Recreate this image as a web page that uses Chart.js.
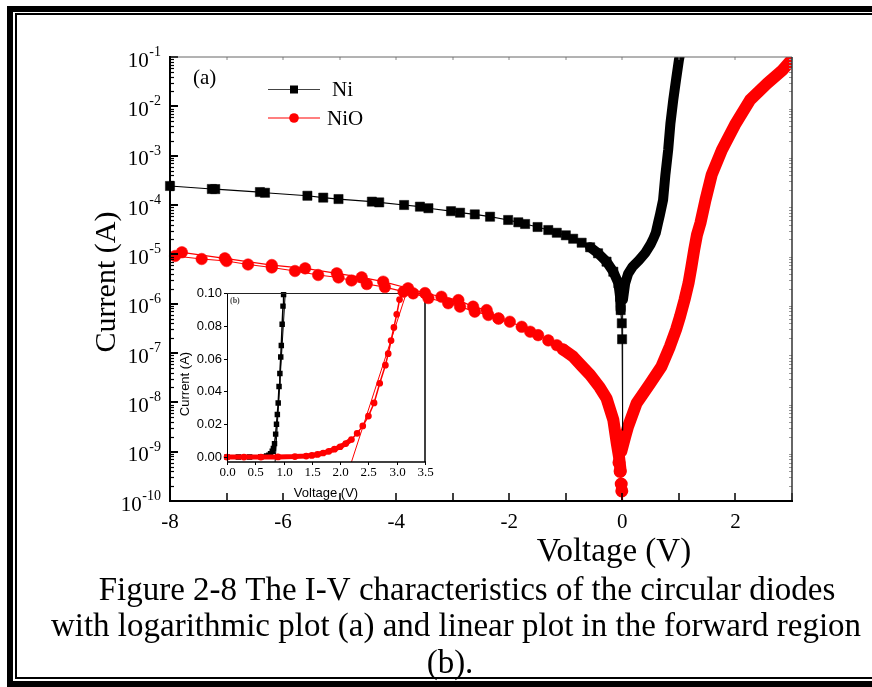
<!DOCTYPE html>
<html>
<head>
<meta charset="utf-8">
<script src="https://cdn.jsdelivr.net/npm/chart.js@4.4.1/dist/chart.umd.min.js"></script>
<style>
  html, body { margin: 0; padding: 0; background: #fff; }
  #wrap { position: relative; width: 872px; height: 687px; overflow: hidden; }
  #inset { position: absolute; left: 176px; top: 280px; z-index: 1; }
  #main { position: absolute; left: 0; top: 0; z-index: 2; }
</style>
</head>
<body>
<div id="wrap">
  <canvas id="inset" width="262" height="222"></canvas>
  <canvas id="main" width="872" height="687"></canvas>
</div>
<script>
// ---- (a) log plot ----
// Ni reverse bias, square markers
const niV = [-8.0, -7.26, -7.2, -6.41, -6.32, -5.57, -5.29, -5.02, -4.43, -4.30, -3.86, -3.58, -3.43, -3.03,
  -2.87, -2.61, -2.34, -2.02, -1.84, -1.72, -1.50, -1.31, -1.16, -1.00, -0.87, -0.72, -0.57, -0.43, -0.28,
  -0.16, -0.07, -0.04, -0.03, -0.01, -0.005];
const niI = [2.43e-4, 2.11e-4, 2.1e-4, 1.83e-4, 1.77e-4, 1.54e-4, 1.41e-4, 1.32e-4, 1.17e-4, 1.13e-4, 1.0e-4,
  9.25e-5, 8.6e-5, 7.5e-5, 6.98e-5, 6.46e-5, 5.79e-5, 4.97e-5, 4.46e-5, 4.12e-5, 3.58e-5, 3.11e-5, 2.74e-5,
  2.43e-5, 2.07e-5, 1.72e-5, 1.39e-5, 1.05e-5, 7.1e-6, 4.44e-6, 2.59e-6, 1.38e-6, 7.4e-7, 4e-7, 1.9e-7];
// Ni dense part (markers merge into a thick trace), null = break
const niDenseV = [-0.57, -0.43, -0.28, -0.16, -0.07, -0.04, -0.03, 0,
  0.01, 0.05, 0.1, 0.18, 0.29, 0.4, 0.5, 0.55, 0.59, 0.63, 0.66, 0.72, 0.76, 0.81, 0.85, 0.9, 0.95, 1.0, 1.03];
const niDenseI = [1.39e-5, 1.05e-5, 7.1e-6, 4.44e-6, 2.59e-6, 1.38e-6, 7.4e-7, null,
  1.2e-6, 2.6e-6, 4.0e-6, 5.6e-6, 7.5e-6, 1.05e-5, 1.6e-5, 2.1e-5, 2.7e-5, 4.3e-5, 6.0e-5, 1.26e-4, 4.0e-4,
  1.3e-3, 4.5e-3, 1.35e-2, 3.5e-2, 8.7e-2, 1.3e-1];
const niTailV = [-0.005, 0, 0.01];
const niTailI = [1.9e-7, 2.7e-9, 1.0e-6];

// NiO reverse bias, two sweeps
const nioAV = [-7.79, -7.03, -6.2, -5.61, -5.05, -4.61, -4.23, -3.79, -3.49, -3.2, -2.9, -2.64, -2.4, -2.19];
const nioAI = [1.1e-5, 8.3e-6, 6.07e-6, 5.2e-6, 4.12e-6, 3.42e-6, 2.79e-6, 2.05e-6, 1.64e-6, 1.38e-6, 1.18e-6,
  8.7e-7, 7.4e-7, 5.0e-7];
const nioBV = [-7.91, -7.44, -7.0, -6.62, -6.2, -5.79, -5.38, -5.02, -4.79, -4.52, -4.2, -3.87, -3.70, -3.43,
  -3.08, -2.87, -2.61, -2.37, -2.19, -1.99, -1.78, -1.63, -1.49, -1.31, -1.16, -1.05];
const nioBI = [9.25e-6, 8.04e-6, 7.32e-6, 6.22e-6, 5.41e-6, 4.59e-6, 3.81e-6, 3.39e-6, 2.95e-6, 2.5e-6, 2.17e-6,
  1.75e-6, 1.62e-6, 1.3e-6, 1.02e-6, 8.7e-7, 6.9e-7, 5.9e-7, 5.0e-7, 4.3e-7, 3.4e-7, 2.7e-7, 2.3e-7, 1.8e-7,
  1.44e-7, 1.18e-7];
const nioDenseV = [-1.05, -0.87, -0.72, -0.57, -0.4, -0.28, -0.16, -0.1, -0.06, -0.03, 0,
  -0.02, 0.05, 0.10, 0.25, 0.49, 0.69, 0.84, 0.95, 1.02, 1.1, 1.17, 1.22, 1.27, 1.32, 1.38, 1.47, 1.58, 1.76,
  1.99, 2.26, 2.56, 2.83, 3.0, 3.03];
const nioDenseI = [1.18e-7, 8.4e-8, 5.5e-8, 3.6e-8, 2.0e-8, 1.2e-8, 4.4e-9, 1.5e-9, 8e-10, 4e-10, null,
  1.0e-9, 2e-9, 3.2e-9, 9.5e-9, 2.4e-8, 5.3e-8, 1.35e-7, 3e-7, 5.5e-7, 1.2e-6, 2.6e-6, 5.5e-6, 1.23e-5, 2.5e-5,
  4.3e-5, 1.26e-4, 4.1e-4, 1.3e-3, 4.2e-3, 1.35e-2, 2.9e-2, 5.4e-2, 9.0e-2, 1.0e-1];
const nioDipV = [-0.06, -0.04, -0.02, -0.01, 0.0];
const nioDipI = [6e-10, 4e-10, 2.2e-10, 1.6e-10, 8e-11];

const xTickLabels = [-8, -6, -4, -2, 0, 2];
const yTickExps = [-1, -2, -3, -4, -5, -6, -7, -8, -9, -10];

// ---- (b) linear inset ----
const bNiV = [0, 0.2, 0.4, 0.6, 0.7, 0.74, 0.77, 0.8, 0.82, 0.84, 0.86, 0.875, 0.89, 0.905, 0.92, 0.935,
  0.95, 0.96, 0.975, 0.99, 1.0];
const bNiI = [0, 0, 0, 0.0002, 0.0006, 0.0012, 0.002, 0.0035, 0.0052, 0.0082, 0.014, 0.02, 0.026, 0.033,
  0.043, 0.051, 0.061, 0.068, 0.081, 0.092, 0.099];
const bNiFitV = [0.85, 1.03];
const bNiFitI = [-0.003, 0.1];
const bNioV = [0, 0.3, 0.6, 0.9, 1.2, 1.4, 1.5, 1.6, 1.7, 1.8, 1.9, 2.0, 2.1, 2.2, 2.3, 2.4, 2.5, 2.6, 2.7,
  2.8, 2.85, 2.9, 2.95, 3.0, 3.05, 3.1];
const bNioI = [0, 0, 0, 0.0001, 0.0003, 0.0006, 0.001, 0.0016, 0.0025, 0.0035, 0.0048, 0.0063, 0.0082, 0.0107,
  0.0145, 0.019, 0.025, 0.033, 0.045, 0.056, 0.063, 0.071, 0.079, 0.087, 0.096, 0.1];
const bNioFitV = [2.2, 3.17];
const bNioFitI = [-0.003, 0.1];
const bXTicks = [0, 0.5, 1.0, 1.5, 2.0, 2.5, 3.0, 3.5];
const bYTicks = [0, 0.02, 0.04, 0.06, 0.08, 0.10];

const pts = (xs, ys) => xs.map((v, i) => ({ x: v, y: ys[i] }));
const SERIF = '"Liberation Serif", "Times New Roman", serif';
const SANS = '"Liberation Sans", Arial, sans-serif';

function seg(ctx, x1, y1, x2, y2, w, c) {
  ctx.beginPath();
  ctx.lineWidth = w;
  ctx.strokeStyle = c;
  ctx.moveTo(x1, y1);
  ctx.lineTo(x2, y2);
  ctx.stroke();
}

const mainDecor = {
  id: 'mainDecor',
  afterDraw(chart) {
    const { ctx, chartArea: a } = chart;
    const x = chart.scales.x, y = chart.scales.y;
    ctx.save();

    // ticks
    for (let v = -8; v <= 3; v++) {
      const px = Math.round(x.getPixelForValue(v));
      seg(ctx, px, a.bottom, px, a.bottom - 8, 1.5, '#000');
      seg(ctx, px, a.top, px, a.top + 3, 1, '#888');
    }
    for (let e = -10; e <= -1; e++) {
      const py = Math.round(y.getPixelForValue(Math.pow(10, e)));
      seg(ctx, a.left, py, a.left + 8, py, 2, '#000');
      if (e < -1) {
        for (let m = 2; m <= 9; m++) {
          const pm = Math.round(y.getPixelForValue(m * Math.pow(10, e))) + 0.5;
          seg(ctx, a.left, pm, a.left + 4, pm, 1.2, '#000');
          seg(ctx, a.right, pm, a.right - 3, pm, 1, '#999');
        }
      }
    }

    // frame
    seg(ctx, a.left, a.top, a.right, a.top, 1, '#666');
    seg(ctx, a.right, a.top, a.right, a.bottom, 1.5, '#333');
    seg(ctx, a.left, a.top - 1, a.left, a.bottom + 1, 2, '#000');
    seg(ctx, a.left - 1, a.bottom, a.right + 1, a.bottom, 2, '#000');

    // tick labels
    ctx.fillStyle = '#000';
    ctx.font = '21px ' + SERIF;
    ctx.textAlign = 'center';
    ctx.textBaseline = 'middle';
    xTickLabels.forEach(v => ctx.fillText(String(v), x.getPixelForValue(v), a.bottom + 21));
    yTickExps.forEach(e => {
      const py = y.getPixelForValue(Math.pow(10, e));
      const rx = a.left - 9;
      ctx.textAlign = 'right';
      ctx.font = '14px ' + SERIF;
      ctx.textBaseline = 'alphabetic';
      const ex = String(e);
      const ew = ctx.measureText(ex).width;
      ctx.fillText(ex, rx, py - 1);
      ctx.font = '21px ' + SERIF;
      ctx.textBaseline = 'middle';
      ctx.fillText('10', rx - ew - 0.5, py + 4);
    });

    // axis titles
    ctx.textAlign = 'center';
    ctx.textBaseline = 'middle';
    ctx.font = '33px ' + SERIF;
    ctx.fillText('Voltage (V)', 614, 552);
    ctx.font = '30px ' + SERIF;
    ctx.save();
    ctx.translate(107, 282);
    ctx.rotate(-Math.PI / 2);
    ctx.fillText('Current (A)', 0, 0);
    ctx.restore();

    // panel label and legend
    ctx.font = '21px ' + SERIF;
    ctx.textAlign = 'left';
    ctx.textBaseline = 'middle';
    ctx.fillText('(a)', 193, 78);
    const ni = chart.data.datasets[1], nio = chart.data.datasets[4];
    seg(ctx, 268, 89.5, 320, 89.5, 1.2, '#444');
    ctx.fillStyle = ni.pointBackgroundColor;
    ctx.fillRect(290, 85.5, 8, 8);
    seg(ctx, 268, 118, 320, 118, 1.2, nio.borderColor);
    ctx.beginPath();
    ctx.fillStyle = nio.pointBackgroundColor;
    ctx.arc(294, 118, 4.8, 0, Math.PI * 2);
    ctx.fill();
    ctx.fillStyle = '#000';
    ctx.fillText('Ni', 332, 90);
    ctx.fillText('NiO', 327, 119);

    // caption
    ctx.font = '33px ' + SERIF;
    ctx.textAlign = 'center';
    ctx.textBaseline = 'alphabetic';
    ctx.fillText('Figure 2-8 The I-V characteristics of the circular diodes', 467, 600);
    ctx.fillText('with logarithmic plot (a) and linear plot in the forward region', 456, 636);
    ctx.fillText('(b).', 450, 673);

    // page border
    ctx.fillStyle = '#000';
    ctx.fillRect(7, 6, 865, 6);
    ctx.fillRect(15, 13, 857, 2);
    ctx.fillRect(7, 6, 6, 681);
    ctx.fillRect(15, 13, 2, 666);
    ctx.fillRect(7, 681, 865, 6);
    ctx.fillRect(15, 677, 857, 2);
    ctx.restore();
  }
};

const clipA = { left: 8, top: 0, right: 0, bottom: 1 };

new Chart(document.getElementById('main'), {
  type: 'scatter',
  data: {
    datasets: [
      { label: 'Ni tail', data: pts(niTailV, niTailI), showLine: true, borderColor: '#000', borderWidth: 1,
        pointRadius: 0, clip: clipA },
      { label: 'Ni', data: pts(niV, niI), showLine: true, borderColor: '#000', borderWidth: 1.2,
        pointStyle: 'rect', pointRadius: 6.5, pointBackgroundColor: '#000', pointBorderColor: '#000',
        pointBorderWidth: 0.5, clip: clipA },
      { label: 'Ni dense', data: pts(niDenseV, niDenseI), showLine: true, borderColor: '#000', borderWidth: 10,
        borderJoinStyle: 'round', borderCapStyle: 'round', pointRadius: 0, spanGaps: false, clip: clipA },
      { label: 'NiO dip', data: pts(nioDipV, nioDipI), showLine: true, borderColor: '#f00', borderWidth: 2,
        pointRadius: [5.5, 5.5, 5.5, 5.5, 0], pointBackgroundColor: '#f00', pointBorderColor: '#f00', clip: clipA },
      { label: 'NiO', data: pts(nioAV, nioAI), showLine: true, borderColor: '#f00', borderWidth: 1.2,
        pointStyle: 'circle', pointRadius: 5.8, pointBackgroundColor: '#f00', pointBorderColor: '#f00',
        pointBorderWidth: 0.5, clip: clipA },
      { label: 'NiO b', data: pts(nioBV, nioBI), showLine: true, borderColor: '#f00', borderWidth: 1.2,
        pointStyle: 'circle', pointRadius: 5.8, pointBackgroundColor: '#f00', pointBorderColor: '#f00',
        pointBorderWidth: 0.5, clip: clipA },
      { label: 'NiO dense', data: pts(nioDenseV, nioDenseI), showLine: true, borderColor: '#f00', borderWidth: 12,
        borderJoinStyle: 'round', borderCapStyle: 'round', pointRadius: 0, spanGaps: false, clip: clipA }
    ]
  },
  options: {
    responsive: false,
    animation: false,
    layout: { padding: { left: 170, top: 57, right: 80, bottom: 186 } },
    scales: {
      x: { type: 'linear', min: -8, max: 3, display: false },
      y: { type: 'logarithmic', min: 1e-10, max: 1e-1, display: false }
    },
    plugins: { legend: { display: false }, tooltip: { enabled: false } }
  },
  plugins: [mainDecor]
});

const insetDecor = {
  id: 'insetDecor',
  beforeDatasetsDraw(chart) {
    const { ctx, chartArea: a } = chart;
    ctx.save();
    ctx.fillStyle = '#fff';
    ctx.fillRect(a.left, a.top, a.right - a.left, a.bottom - a.top);
    ctx.restore();
  },
  afterDraw(chart) {
    const { ctx, chartArea: a } = chart;
    const x = chart.scales.x, y = chart.scales.y;
    ctx.save();
    seg(ctx, a.left + 0.5, a.top, a.left + 0.5, a.bottom + 1, 1, '#000');
    seg(ctx, a.left, a.top + 0.5, a.right, a.top + 0.5, 1, '#222');
    seg(ctx, a.right, a.top, a.right, a.bottom, 1.5, '#000');
    seg(ctx, a.left, a.bottom, a.right + 1, a.bottom, 1.5, '#000');
    ctx.fillStyle = '#000';
    ctx.font = '13px ' + SERIF;
    ctx.textAlign = 'center';
    ctx.textBaseline = 'middle';
    bXTicks.forEach(v => {
      const px = Math.round(x.getPixelForValue(v)) + 0.5;
      seg(ctx, px, a.bottom, px, a.bottom + 3, 1, '#000');
      ctx.fillText(v.toFixed(1), px, a.bottom + 11);
    });
    ctx.font = '13px ' + SANS;
    ctx.textAlign = 'right';
    bYTicks.forEach(v => {
      const py = Math.round(y.getPixelForValue(v)) + 0.5;
      seg(ctx, a.left, py, a.left - 3, py, 1, '#000');
      ctx.fillText(v.toFixed(2), a.left - 5, py);
    });
    ctx.textAlign = 'center';
    ctx.fillText('Voltage (V)', (a.left + a.right) / 2, a.bottom + 31);
    ctx.save();
    ctx.translate(9, 104);
    ctx.rotate(-Math.PI / 2);
    ctx.fillText('Current (A)', 0, 0);
    ctx.restore();
    ctx.font = 'bold 8px ' + SERIF;
    ctx.textAlign = 'left';
    ctx.fillStyle = '#444';
    ctx.fillText('(b)', a.left + 3, a.top + 8);
    ctx.restore();
  }
};

const clipB = { left: 4, top: 2, right: 0, bottom: 4 };

new Chart(document.getElementById('inset'), {
  type: 'scatter',
  data: {
    datasets: [
      { label: 'NiO fit', data: pts(bNioFitV, bNioFitI), showLine: true, borderColor: '#f00', borderWidth: 1,
        pointRadius: 0, clip: clipB },
      { label: 'NiO', data: pts(bNioV, bNioI), showLine: true, borderColor: '#f00', borderWidth: 1.5,
        pointRadius: 2.6, pointBackgroundColor: '#f00', pointBorderColor: '#f00', clip: clipB },
      { label: 'NiO band', data: pts(bNioV.slice(0, 14), bNioI.slice(0, 14)), showLine: true, borderColor: '#f00',
        borderWidth: 5, pointRadius: 0, clip: clipB },
      { label: 'Ni fit', data: pts(bNiFitV, bNiFitI), showLine: true, borderColor: '#000', borderWidth: 1,
        pointRadius: 0, clip: clipB },
      { label: 'Ni', data: pts(bNiV, bNiI), showLine: true, borderColor: '#000', borderWidth: 1.5,
        pointStyle: 'rect', pointRadius: 2.8, pointBackgroundColor: '#000', pointBorderColor: '#000', clip: clipB }
    ]
  },
  options: {
    responsive: false,
    animation: false,
    layout: { padding: { left: 51, top: 13, right: 13, bottom: 40 } },
    scales: {
      x: { type: 'linear', min: 0, max: 3.5, display: false },
      y: { type: 'linear', min: -0.003, max: 0.1, display: false }
    },
    plugins: { legend: { display: false }, tooltip: { enabled: false } }
  },
  plugins: [insetDecor]
});
</script>
</body>
</html>
